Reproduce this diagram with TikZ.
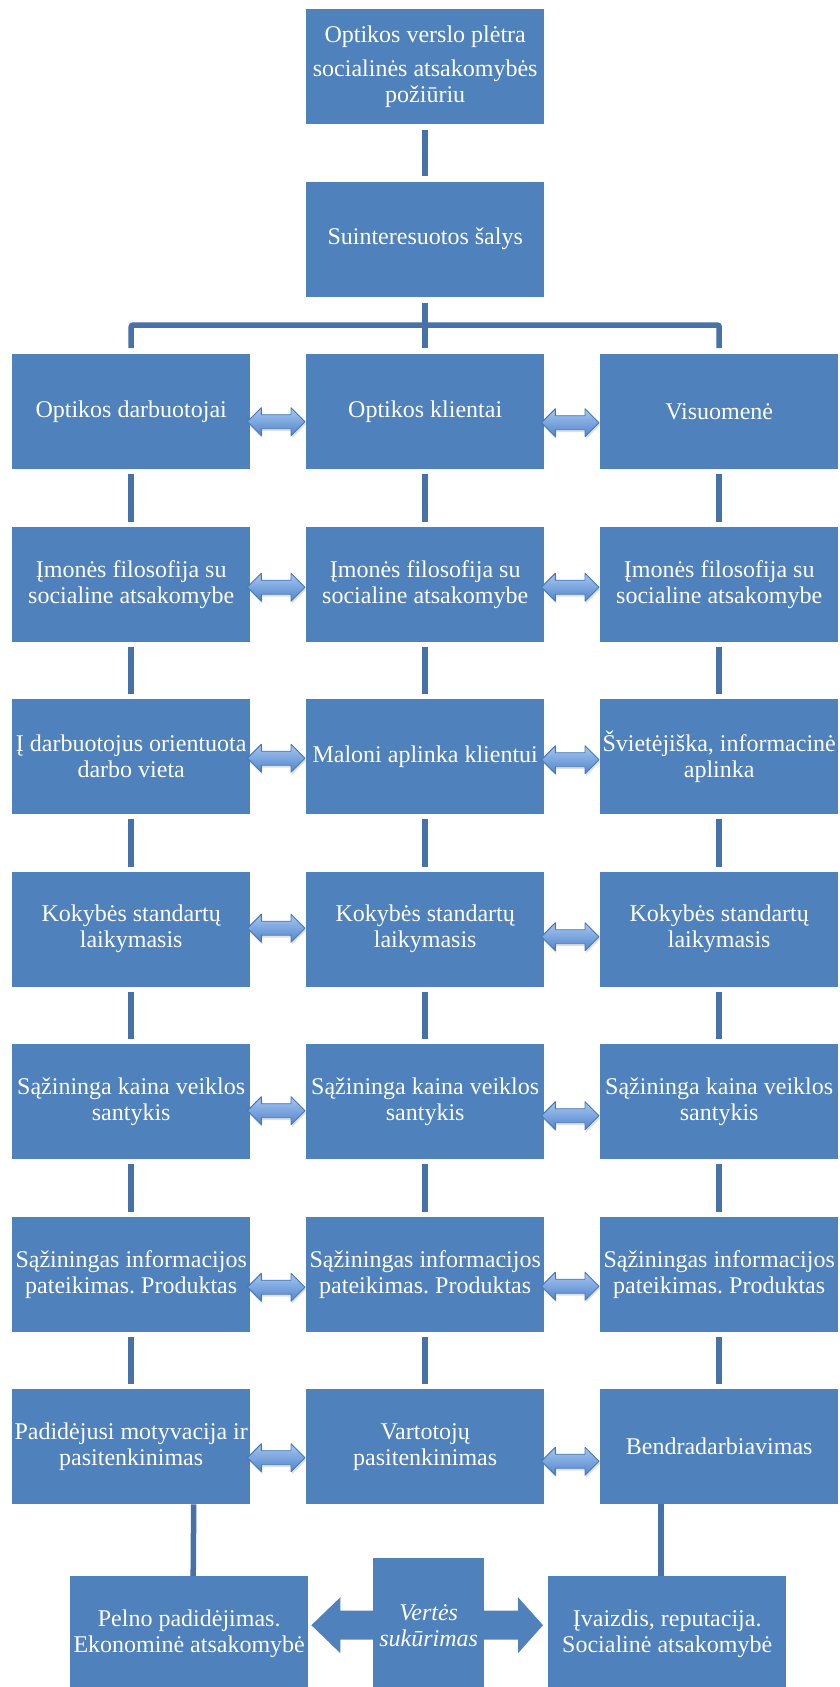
\documentclass[tikz,border=0pt]{standalone}
\usepackage{fontspec}
\setmainfont{Liberation Serif}
\frenchspacing
\usetikzlibrary{calc,shadows}
\definecolor{boxblue}{HTML}{4F81BD}
\definecolor{linkblue}{HTML}{4672A9}
\definecolor{arrtop}{HTML}{A9C6EE}
\definecolor{arrbot}{HTML}{4F86CE}
\definecolor{arredge}{HTML}{4579B8}
\tikzset{
  box/.style={fill=boxblue, text=white, minimum width=238pt, minimum height=115pt,
    inner sep=0pt, align=center, anchor=north west, font=\fontsize{24}{26}\selectfont},
  conn/.style={draw=linkblue, line width=5.5pt},
  dbl/.style={top color=arrtop, bottom color=arrbot, draw=arredge, line width=0.9pt,
    line join=round, drop shadow={opacity=0.25, shadow xshift=1pt, shadow yshift=-2.5pt}},
  bigarr/.style={fill=boxblue},
}
\newcommand\dblarr[3]{%
  \path[dbl] let \p1=($(#1.east)+(-3,#3)$), \p2=($(#2.west)+(-1,#3)$) in
    (\x1,\y1) -- (\x1+14pt,\y1+14pt) -- (\x1+14pt,\y1+7pt) -- (\x2-14pt,\y1+7pt)
    -- (\x2-14pt,\y1+14pt) -- (\x2,\y1) -- (\x2-14pt,\y1-14pt) -- (\x2-14pt,\y1-7pt)
    -- (\x1+14pt,\y1-7pt) -- (\x1+14pt,\y1-14pt) -- cycle;}
\begin{document}
\begin{tikzpicture}[x=1pt,y=-1pt]
\fill[white] (0,0) rectangle (839,1687);
\useasboundingbox (0,0) rectangle (839,1687);

\node[box] (t) at (306,9) {Optikos verslo plėtra\\[8pt]socialinės atsakomybės\\požiūriu};
\node[box] (s) at (306,181.5) {Suinteresuotos šalys};

\node[box] (a1) at (12,354) {Optikos darbuotojai};
\node[box] (b1) at (306,354) {Optikos klientai};
\node[box] (c1) at (600,354) {Visuomenė};

\node[box] (a2) at (12,526.5) {Įmonės filosofija su\\socialine atsakomybe};
\node[box] (b2) at (306,526.5) {Įmonės filosofija su\\socialine atsakomybe};
\node[box] (c2) at (600,526.5) {Įmonės filosofija su\\socialine atsakomybe};

\node[box] (a3) at (12,699) {Į darbuotojus orientuota\\darbo vieta};
\node[box] (b3) at (306,699) {Maloni aplinka klientui};
\node[box] (c3) at (600,699) {Švietėjiška, informacinė\\aplinka};

\node[box] (a4) at (12,871.5) {Kokybės standartų\\laikymasis};
\node[box] (b4) at (306,871.5) {Kokybės standartų\\laikymasis};
\node[box] (c4) at (600,871.5) {Kokybės standartų\\laikymasis};

\node[box] (a5) at (12,1044) {Sąžininga kaina veiklos\\santykis};
\node[box] (b5) at (306,1044) {Sąžininga kaina veiklos\\santykis};
\node[box] (c5) at (600,1044) {Sąžininga kaina veiklos\\santykis};

\node[box] (a6) at (12,1216.5) {Sąžiningas informacijos\\pateikimas. Produktas};
\node[box] (b6) at (306,1216.5) {Sąžiningas informacijos\\pateikimas. Produktas};
\node[box] (c6) at (600,1216.5) {Sąžiningas informacijos\\pateikimas. Produktas};

\node[box] (a7) at (12,1389) {Padidėjusi motyvacija ir\\pasitenkinimas};
\node[box] (b7) at (306,1389) {Vartotojų\\pasitenkinimas};
\node[box] (c7) at (600,1389) {Bendradarbiavimas};

\node[box] (lb) at (70,1576) {Pelno padidėjimas.\\Ekonominė atsakomybė};
\node[box] (rb) at (548,1576) {Įvaizdis, reputacija.\\Socialinė atsakomybė};

% big double arrow behind the centre box
\path[bigarr] let \p1=($(lb.east)+(3,-8.5)$), \p2=($(rb.west)+(-5,-8.5)$) in
  (\x1,\y1) -- (\x1+29pt,\y1+28pt) -- (\x1+29pt,\y1+14.5pt) -- (\x2-25pt,\y1+14.5pt)
  -- (\x2-25pt,\y1+28pt) -- (\x2,\y1) -- (\x2-25pt,\y1-28pt) -- (\x2-25pt,\y1-14.5pt)
  -- (\x1+29pt,\y1-14.5pt) -- (\x1+29pt,\y1-28pt) -- cycle;
\node[box, minimum width=111pt, minimum height=134pt] (v) at (373,1558) {\itshape Vertės\\\itshape sukūrimas};

% connectors
\draw[conn] ([yshift=-6pt]t.south) -- ([yshift=5.5pt]s.north);
\draw[conn] ([yshift=-6pt]s.south) -- ([yshift=6pt]b1.north);
\draw[conn, rounded corners=2pt] ([yshift=6pt]a1.north) |- ([yshift=29pt]c1.north) -- ([yshift=6pt]c1.north);

\foreach \u/\w in {1/2,2/3,3/4,4/5,5/6,6/7}{
  \draw[conn] ([yshift=-5pt]a\u.south) -- ([yshift=5pt]a\w.north);
  \draw[conn] ([yshift=-5pt]b\u.south) -- ([yshift=5pt]b\w.north);
  \draw[conn] ([yshift=-5pt]c\u.south) -- ([yshift=5pt]c\w.north);
}
\draw[conn] ([xshift=62.5pt]a7.south) -- ([xshift=4pt]lb.north);
\draw[conn] ([xshift=-58pt]c7.south) -- ([xshift=-6pt]rb.north);

% horizontal double arrows
\dblarr{a1}{b1}{10}   \dblarr{b1}{c1}{11}
\dblarr{a2}{b2}{3}    \dblarr{b2}{c2}{3}
\dblarr{a3}{b3}{1.5}  \dblarr{b3}{c3}{3}
\dblarr{a4}{b4}{-1}   \dblarr{b4}{c4}{7.5}
\dblarr{a5}{b5}{9}    \dblarr{b5}{c5}{14}
\dblarr{a6}{b6}{13}   \dblarr{b6}{c6}{12}
\dblarr{a7}{b7}{11}   \dblarr{b7}{c7}{14.5}
\end{tikzpicture}
\end{document}
